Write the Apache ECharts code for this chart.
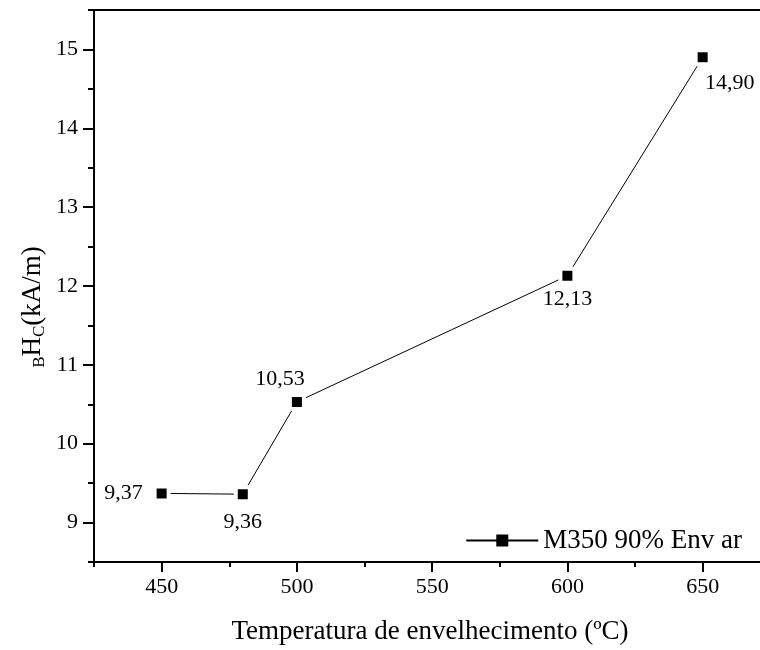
<!DOCTYPE html>
<html>
<head>
<meta charset="utf-8">
<script src="https://cdn.jsdelivr.net/npm/echarts@6/dist/echarts.min.js"></script>
<style>
  html, body { margin: 0; padding: 0; background: #fff; }
  #chart { width: 760px; height: 650px; }
</style>
</head>
<body>
<div id="chart"></div>
<script>
// temperatura de envelhecimento (ºC) e Hc medido
var temperatures = [450, 480, 500, 600, 650];
var hcValues = [9.37, 9.36, 10.53, 12.13, 14.90];
var hcLabels = ['9,37', '9,36', '10,53', '12,13', '14,90'];
var xMajorTicks = [450, 500, 550, 600, 650];
var xMinorTicks = [425, 475, 525, 575, 625];
var yMajorTicks = [9, 10, 11, 12, 13, 14, 15];
var seriesName = 'M350 90% Env ar';

var font = 'Liberation Serif, Times New Roman, serif';

// posição de cada rótulo (como no original)
var labelPos = [
  {position: 'left', distance: 10},
  {position: 'bottom', distance: 8},
  {position: 'top', distance: 3, offset: [-17, 0]},
  {position: 'bottom', distance: 3},
  {position: 'bottom', distance: 6, offset: [27, 0]}
];

var points = temperatures.map(function (t, i) {
  return {
    value: [t, hcValues[i]],
    label: Object.assign({show: true, formatter: hcLabels[i]}, labelPos[i])
  };
});

var chart = echarts.init(document.getElementById('chart'));

var axisBase = {
  type: 'value',
  axisLine: {show: true, lineStyle: {color: '#000', width: 2}},
  splitLine: {show: false}
};

// o eixo x continua além da borda direita da figura
var xMin = 425, xMax = 671.2;

chart.setOption({
  animation: false,
  textStyle: {fontFamily: font, color: '#000'},
  grid: {left: 94, top: 10, right: 0, bottom: 85},
  xAxis: [
    Object.assign({}, axisBase, {
      min: xMin, max: xMax,
      position: 'bottom',
      axisTick: {show: true, length: 5, customValues: xMinorTicks, lineStyle: {color: '#000', width: 2}},
      axisLabel: {
        fontSize: 22, color: '#000', fontFamily: font, margin: 14,
        customValues: xMajorTicks
      },
      name: 'Temperatura de envelhecimento (ºC)',
      nameLocation: 'middle',
      nameGap: 56,
      nameTextStyle: {fontSize: 27, color: '#000', fontFamily: font, padding: [0, 0, 0, 6]}
    }),
    Object.assign({}, axisBase, {
      min: xMin, max: xMax,
      position: 'bottom',
      axisLine: {show: false},
      axisTick: {show: true, length: 10, customValues: xMajorTicks, lineStyle: {color: '#000', width: 2}},
      axisLabel: {show: false}
    }),
    Object.assign({}, axisBase, {
      min: xMin, max: xMax,
      position: 'top',
      axisTick: {show: false},
      axisLabel: {show: false}
    })
  ],
  yAxis: [
    Object.assign({}, axisBase, {
      min: 8.5, max: 15.5, interval: 0.5,
      position: 'left',
      axisTick: {show: true, length: 6, lineStyle: {color: '#000', width: 2}},
      axisLabel: {
        fontSize: 22, color: '#000', fontFamily: font, margin: 16,
        formatter: function (v) { return Math.abs(v - Math.round(v)) < 1e-6 ? String(Math.round(v)) : ''; }
      }
    }),
    Object.assign({}, axisBase, {
      min: 8.5, max: 15.5,
      position: 'left',
      axisLine: {show: false},
      axisTick: {show: true, length: 11, customValues: yMajorTicks, lineStyle: {color: '#000', width: 2}},
      axisLabel: {show: false}
    })
  ],
  legend: {
    right: 13,
    top: 522,
    itemWidth: 72,
    itemHeight: 15,
    itemGap: 8,
    itemStyle: {borderWidth: 0},
    textStyle: {fontSize: 27, color: '#000', fontFamily: font},
    data: [seriesName]
  },
  graphic: [{
    type: 'text',
    x: 33,
    y: 307,
    rotation: Math.PI / 2,
    style: {
      text: '{sub|B}H{sub|C}(kA/m)',
      font: '27px ' + font,
      fill: '#000',
      align: 'center',
      verticalAlign: 'middle',
      rich: {
        sub: {fontSize: 17, fontFamily: font, fill: '#000', padding: [14, 0, 0, 0]}
      }
    }
  }],
  series: [{
    name: seriesName,
    type: 'line',
    data: points,
    symbol: 'rect',
    symbolSize: 14,
    itemStyle: {color: '#000', borderColor: '#fff', borderWidth: 4},
    lineStyle: {color: '#000', width: 1},
    label: {fontSize: 22, color: '#000', fontFamily: font},
    emphasis: {disabled: true}
  }]
});
</script>
</body>
</html>
